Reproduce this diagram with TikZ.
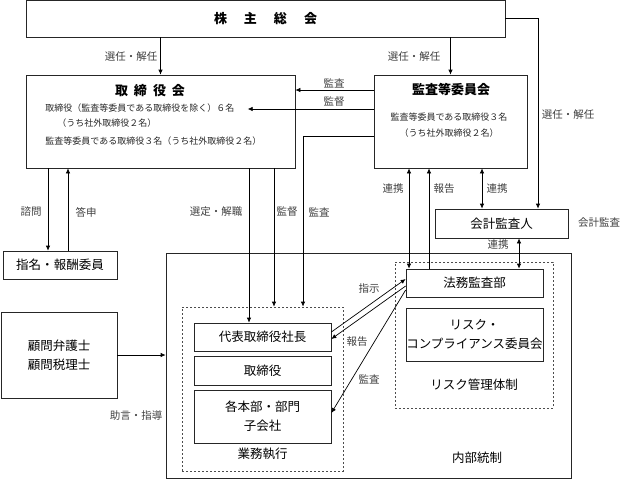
\documentclass[tikz,border=0pt]{standalone}
\usepackage{fontspec}
\setmainfont{Noto Sans CJK JP}
\usetikzlibrary{arrows.meta}

\begin{document}
\begin{tikzpicture}[x=1pt, y=-1pt, line width=0.7pt, >={Latex[length=5pt,width=4.5pt]},
    box/.style={draw=black!85, inner sep=0pt, align=center, font=\fontsize{12.5}{19}\selectfont},
    dbox/.style={draw=black!70, dash pattern=on 2pt off 2pt, inner sep=0pt},
    lbl/.style={text=black!75, inner sep=1pt, font=\fontsize{10.5}{12}\selectfont},
    small/.style={inner sep=1pt, text=black!85, font=\fontsize{9}{11}\selectfont},
    ttl/.style={font=\fontsize{13}{15}\selectfont\bfseries}]

    \useasboundingbox (0,0) rectangle (620,482);

    % top level
    \node [box, minimum width=479pt, minimum height=37pt] (soukai) at (265.5,18.5) {\fontsize{13}{15}\selectfont\bfseries 株\hspace{17pt}主\hspace{17pt}総\hspace{17pt}会};

    \node [box, minimum width=269pt, minimum height=93pt] (torishimari) at (160.5,121.5) {};
    \node [ttl] (torititle) at (150,91) {取\hspace{6pt}締\hspace{6pt}役\hspace{6pt}会};
    \node [small, anchor=west] (toriline1) at (44,108) {取締役（監査等委員である取締役を除く）６名};
    \node [small, anchor=west] (toriline2) at (56,123) {（うち社外取締役２名）};
    \node [small, anchor=west] (toriline3) at (44,141) {監査等委員である取締役３名（うち社外取締役２名）};

    \node [box, minimum width=153pt, minimum height=93pt] (kansa) at (450.5,121.5) {};
    \node [ttl] (kansatitle) at (451,90) {監査等委員会};
    \node [small] (kansaline1) at (449,117) {監査等委員である取締役３名};
    \node [small] (kansaline2) at (449,133) {（うち社外取締役２名）};

    \node [box, minimum width=114pt, minimum height=28pt] (shimei) at (60,265) {指名・報酬委員};
    \node [box, minimum width=133pt, minimum height=29pt] (kaikei) at (501.5,223.5) {会計監査人};

    % internal control
    \node [box, minimum width=405pt, minimum height=225pt] (naibu) at (368.5,365.5) {};
    \node [box, draw=none] (naibulabel) at (477,458) {内部統制};

    \node [dbox, minimum width=158pt, minimum height=146pt] (risk) at (474,335) {};
    \node [box, draw=none] (risklabel) at (474,385) {リスク管理体制};
    \node [box, minimum width=137pt, minimum height=28pt] (houmu) at (474.5,283) {法務監査部};
    \node [box, minimum width=137pt, minimum height=53pt] (riskcomp) at (474.5,334.5) {リスク・\\コンプライアンス委員会};

    \node [dbox, minimum width=161pt, minimum height=164pt] (gyomu) at (262.5,389) {};
    \node [box, draw=none] (gyomulabel) at (262.5,454) {業務執行};
    \node [box, minimum width=137pt, minimum height=28pt] (shacho) at (262.5,337) {代表取締役社長};
    \node [box, minimum width=137pt, minimum height=29pt] (yakuin) at (262.5,370.5) {取締役};
    \node [box, minimum width=137pt, minimum height=53pt] (honbu) at (262.5,416.5) {各本部・部門\\子会社};

    \node [box, minimum width=116pt, minimum height=86pt] (komon) at (59,355) {顧問弁護士\\顧問税理士};

    % connectors
    \draw[->] (soukai.south -| torishimari.north) -- (torishimari.north);
    \draw[->] (soukai.south -| kansa.north) -- (kansa.north);
    \draw[->] (soukai.east) -| ([xshift=36.5pt]kaikei.north);

    \draw[->] ([yshift=31.5pt]kansa.west) -- ([yshift=31.5pt]torishimari.east);
    \draw[->] ([yshift=12.5pt]kansa.west) -- ++(-126pt,0);
    \draw[->] ([yshift=-14.5pt]kansa.west) -| ([xshift=40.5pt]gyomu.north);

    \draw[->] ([xshift=-13.5pt]shacho.north |- torishimari.south) -- ([xshift=-13.5pt]shacho.north);
    \draw[->] ([xshift=11.5pt]gyomu.north |- torishimari.south) -- ([xshift=11.5pt]gyomu.north);

    \draw[->] ([xshift=-12pt]shimei.north |- torishimari.south) -- ([xshift=-12pt]shimei.north);
    \draw[->] ([xshift=8pt]shimei.north) -- ([xshift=8pt]shimei.north |- torishimari.south);

    \draw[<->] ([xshift=-65.5pt]houmu.north |- kansa.south) -- ([xshift=-65.5pt]houmu.north);
    \draw[->] ([xshift=-45.5pt]houmu.north) -- ([xshift=-45.5pt]houmu.north |- kansa.south);
    \draw[<->] ([xshift=-19.5pt]kaikei.north |- kansa.south) -- ([xshift=-19.5pt]kaikei.north);
    \draw[<->] ([xshift=17.5pt]kaikei.south) -- ([xshift=17.5pt]kaikei.south |- houmu.north);

    \draw[->] ([yshift=5pt]shacho.east) -- ([yshift=4pt]houmu.west);
    \draw[->] ([yshift=-3pt]houmu.west) -- ([yshift=-2pt]shacho.east);
    \draw[->] ([yshift=-7pt]houmu.west) -- ([yshift=3.5pt]honbu.east);

    \draw[->] (komon.east) -- (komon.east -| naibu.west);

    % labels
    \node [lbl] (l1) at (131,57) {選任・解任};
    \node [lbl] (l2) at (414,57) {選任・解任};
    \node [lbl] (l3) at (568,115) {選任・解任};
    \node [lbl] (l4) at (334,83) {監査};
    \node [lbl] (l5) at (334,102) {監督};
    \node [lbl] (l6) at (31,212) {諮問};
    \node [lbl] (l7) at (86,212) {答申};
    \node [lbl] (l8) at (216,212) {選定・解職};
    \node [lbl] (l9) at (287,212) {監督};
    \node [lbl] (l10) at (319,212) {監査};
    \node [lbl] (l11) at (393,189) {連携};
    \node [lbl] (l12) at (444,189) {報告};
    \node [lbl] (l13) at (497,189) {連携};
    \node [lbl] (l14) at (498,245) {連携};
    \node [lbl] (l15) at (599,223) {会計監査};
    \node [lbl] (l16) at (369,289) {指示};
    \node [lbl] (l17) at (357,342) {報告};
    \node [lbl] (l18) at (369,379) {監査};
    \node [lbl] (l19) at (136,416) {助言・指導};

\end{tikzpicture}
\end{document}
